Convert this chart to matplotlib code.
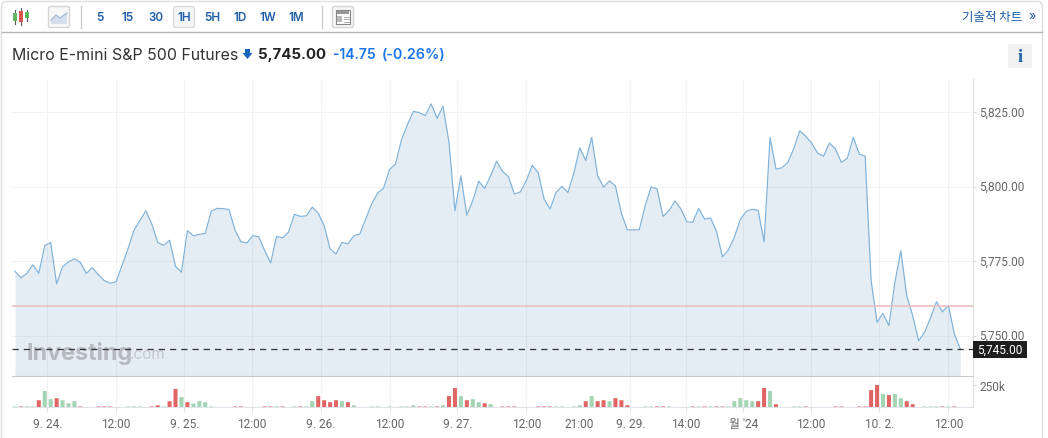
import matplotlib
matplotlib.use("Agg")

import matplotlib.pyplot as plt
from matplotlib.patches import FancyBboxPatch, Polygon, Rectangle
from matplotlib.transforms import ScaledTranslation
import numpy as np

FONT = ["Inter", "Noto Sans CJK KR", "DejaVu Sans"]
TICK_FONT = ["Roboto", "Noto Sans CJK KR", "DejaVu Sans"]
plt.rcParams["font.family"] = FONT

# hourly closes
price = [
    5771.6, 5769.4, 5770.9, 5773.8, 5770.9, 5780.2, 5781.3, 5767.4, 5773.1, 5774.8,
    5775.8, 5774.6, 5770.9, 5772.8, 5770.5, 5768.5, 5767.6, 5768.1, 5773.5, 5779.1,
    5785.3, 5788.6, 5791.9, 5787.5, 5781.3, 5780.3, 5782.0, 5773.3, 5771.3, 5785.2,
    5783.5, 5784.0, 5784.3, 5791.7, 5792.7, 5792.6, 5792.3, 5785.5, 5781.5, 5781.1,
    5783.5, 5783.2, 5778.5, 5774.4, 5783.3, 5782.8, 5784.7, 5790.7, 5790.0, 5790.2,
    5793.1, 5791.1, 5786.9, 5779.1, 5777.4, 5781.3, 5780.8, 5783.5, 5784.1, 5789.1,
    5794.2, 5797.8, 5799.5, 5805.7, 5807.5, 5815.6, 5820.7, 5825.2, 5824.8, 5823.8,
    5827.7, 5822.9, 5826.9, 5814.8, 5791.9, 5803.6, 5790.4, 5795.3, 5801.8, 5799.4,
    5803.6, 5808.5, 5805.1, 5803.3, 5797.5, 5798.2, 5802.0, 5807.1, 5804.7, 5795.8,
    5792.5, 5798.0, 5800.1, 5798.0, 5804.5, 5813.0, 5808.7, 5816.5, 5803.6, 5799.8,
    5801.9, 5800.2, 5791.0, 5785.5, 5785.5, 5785.5, 5793.6, 5799.9, 5799.2, 5790.0,
    5791.9, 5795.2, 5792.5, 5788.2, 5788.0, 5792.7, 5789.1, 5789.5, 5784.9, 5776.4,
    5778.8, 5783.0, 5789.0, 5791.7, 5792.4, 5792.0, 5781.5, 5816.5, 5805.9, 5806.3,
    5808.1, 5812.8, 5818.7, 5816.9, 5814.6, 5811.2, 5810.2, 5814.6, 5812.6, 5808.1,
    5809.5, 5816.5, 5810.9, 5810.2, 5768.5, 5754.5, 5757.5, 5753.4, 5767.9, 5778.5,
    5763.4, 5756.7, 5748.3, 5751.2, 5756.0, 5761.4, 5758.0, 5760.2, 5750.6, 5745.6,
]

# volume in thousands, g/r is the bar colour
volume = [
    6, 6, 6, 6, 76, 179, 88, 99, 76, 42,
    65, 6, 0, 0, 6, 6, 6, 0, 0, 6,
    6, 6, 0, 6, 19, 6, 65, 202, 111, 54,
    38, 65, 54, 6, 0, 0, 0, 6, 6, 0,
    0, 0, 6, 6, 6, 6, 0, 6, 6, 6,
    65, 122, 76, 54, 76, 65, 54, 19, 0, 0,
    6, 6, 0, 6, 0, 6, 6, 19, 6, 6,
    6, 6, 19, 122, 213, 122, 76, 88, 54, 42,
    31, 0, 6, 6, 6, 0, 0, 0, 6, 6,
    6, 6, 6, 0, 6, 19, 65, 122, 65, 76,
    65, 99, 76, 19, 0, 0, 6, 6, 6, 6,
    6, 0, 0, 0, 6, 6, 6, 6, 6, 6,
    6, 65, 99, 76, 65, 65, 213, 179, 31, 0,
    0, 6, 6, 6, 0, 0, 0, 0, 6, 6,
    0, 0, 6, 6, 190, 247, 145, 133, 145, 99,
    65, 31, 0, 6, 6, 6, 6, 6, 6, 0,
]
vol_dir = (
    "grggrggrgg" "grggrrrggg" "gggrrgrrgr" "gggggggrrg"
    "ggrrgrggrg" "grrrrgrggg" "ggggggggrr" "grgrrgrggr"
    "ggrrrgggrr" "rgggggrgrr" "grrrggggrr" "ggggrgrgrr"
    "gggggrrgrg" "gggrggggrr" "ggrrrrgrgg" "rrggggrgrg"
)

tick_pos = [5.43, 17, 28.5, 39.9, 51.5, 63, 74.4, 86, 94.9, 103.5, 112.9, 122.5, 133.9, 145.4, 157]
tick_labels = ["9. 24.", "12:00", "9. 25.", "12:00", "9. 26.", "12:00", "9. 27.", "12:00",
               "21:00", "9. 29.", "14:00", "월 '24", "12:00", "10. 2.", "12:00"]
price_ticks = [5750, 5775, 5800, 5825]
periods = ["5", "15", "30", "1H", "5H", "1D", "1W", "1M"]
period_x = [100, 128, 156, 184, 212, 240, 268, 296]
last_price = 5745.4
prev_close = 5759.9

W, H = 1048, 439
BLUE = "#1f5ea8"
BRIGHT = "#1a73e8"
GRID = "#f1f2f5"
TICK_TEXT = "#666666"


def px_axes(fig, left, top, right, bottom, **kw):
    return fig.add_axes([left / W, 1 - bottom / H, (right - left) / W, (bottom - top) / H], **kw)


fig = plt.figure(figsize=(W / 100, H / 100), dpi=100, facecolor="white")
ax = px_axes(fig, 12, 80, 973, 376.5)
ax_vol = px_axes(fig, 12, 376.5, 973, 408)
xs = np.arange(len(price))

# price panel, the fill is see-through so the grid shows under it
ax.fill_between(xs, price, 5700, color="#78a0c8", alpha=0.2, lw=0, zorder=1)
ax.plot(xs, price, color="#7fb2d8", lw=0.85, zorder=3)
ax.set_xlim(-0.505, 161.14)
ax.set_ylim(5736.67, 5836.06)
ax.set_xticks(tick_pos)
ax.set_yticks(price_ticks)
ax.set_yticklabels([f"{p:,.2f}" for p in price_ticks], fontsize=8.6, color=TICK_TEXT, family=TICK_FONT)
ax.yaxis.tick_right()
ax.tick_params(axis="x", length=0, labelbottom=False)
ax.tick_params(axis="y", length=2, color="#dddddd", pad=2.7)
ax.grid(True, color=GRID, lw=0.75, zorder=0)
ax.set_axisbelow(True)
ax.xaxis.get_major_ticks()[8].gridline.set_visible(False)
# labels sit a little above their ticks in the original
nudge = ScaledTranslation(0, 1.2 / 72, fig.dpi_scale_trans)
for lab in ax.get_yticklabels():
    lab.set_transform(lab.get_transform() + nudge)
for name in ["top", "left", "bottom"]:
    ax.spines[name].set_visible(False)
ax.spines["right"].set_color("#dddddd")
ax.axhline(prev_close, color="#ecc0c0", lw=1.2, zorder=4)
ax.axhline(last_price, color="#333333", lw=0.9, dashes=(5, 4), zorder=6)

# volume panel
bars = ax_vol.bar(xs, volume, width=0.68, lw=0, zorder=3,
                  color=["#a3d4b3" if d == "g" else "#e06666" for d in vol_dir])
for b in bars:
    b.set_snap(False)
ax_vol.set_xlim(ax.get_xlim())
ax_vol.set_ylim(0, 353)
ax_vol.set_xticks(tick_pos)
ax_vol.set_xticklabels(tick_labels, fontsize=8.6, color=TICK_TEXT, family=TICK_FONT)
ax_vol.set_yticks([250])
ax_vol.set_yticklabels(["250k"], fontsize=8.6, color=TICK_TEXT, family=TICK_FONT)
ax_vol.yaxis.tick_right()
ax_vol.tick_params(axis="x", length=3.6, color="#dfe2e8", pad=3.3)
ax_vol.tick_params(axis="y", length=2, color="#dddddd", pad=2.7)
ax_vol.grid(True, axis="x", color=GRID, lw=0.75, zorder=1)
ax_vol.xaxis.get_major_ticks()[8].gridline.set_visible(False)
ax_vol.xaxis.get_major_ticks()[8].tick1line.set_visible(False)
ax_vol.spines["left"].set_visible(False)
ax_vol.spines["top"].set_color("#c8c8c8")
ax_vol.spines["right"].set_color("#dddddd")
ax_vol.spines["bottom"].set_color("#dfe2e8")

# everything around the chart, in pixel coordinates
ov = fig.add_axes([0, 0, 1, 1], zorder=10)
ov.set_xlim(0, W)
ov.set_ylim(H, 0)
ov.axis("off")
ov.patch.set_alpha(0)

ov.add_patch(FancyBboxPatch((1.5, 2.5), 1041, 460, boxstyle="round,pad=0,rounding_size=5",
                            fc="none", ec="#dddddd", lw=1))
ov.plot([2, 1042], [33, 33], color="#b5b5b5", lw=1)
ov.plot([80.5, 80.5], [7, 29], color="#cccccc", lw=1)
ov.plot([321.5, 321.5], [7, 29], color="#cccccc", lw=1)

# candlestick icon
for cx, top, y0, y1, col in [(15, 11, 14, 22, "#5cb85c"), (21, 9, 12, 23, "#d9534f"), (27, 11, 13, 19, "#5cb85c")]:
    ov.plot([cx, cx], [top, y1 + 3], color="#555555", lw=0.8)
    ov.add_patch(Rectangle((cx - 1.7, y0), 3.4, y1 - y0, fc=col, ec="none", zorder=3))

# area icon and table icon buttons
for bx in [48.5, 332.5]:
    ov.add_patch(FancyBboxPatch((bx, 7.5), 21, 21, boxstyle="round,pad=0,rounding_size=2",
                                fc="#f7f7f7", ec="#d5d5d5", lw=1))
ov.add_patch(Polygon([(51, 25), (51, 21), (56, 16), (60, 19), (67, 14), (67, 25)],
                     fc="#d5dff0", ec="none"))
ov.plot([51, 56, 60, 67], [21, 16, 19, 14], color="#9db4d6", lw=0.8)
ov.add_patch(Rectangle((336, 11), 14, 14, fc="#ffffff", ec="#888888", lw=0.8))
ov.add_patch(Rectangle((337, 12), 12, 3, fc="#999999", ec="none", zorder=3))
ov.add_patch(Rectangle((337, 17), 5, 6, fc="#bbbbbb", ec="none", zorder=3))
for ly in [17.5, 20, 22.5]:
    ov.plot([344, 349], [ly, ly], color="#aaaaaa", lw=0.7)

ov.add_patch(FancyBboxPatch((173.5, 7.5), 21, 21, boxstyle="round,pad=0,rounding_size=2",
                            fc="#f5f6f8", ec="#dcdcdc", lw=1))
for label, x in zip(periods, period_x):
    ov.text(x, 18, label, ha="center", va="center", fontsize=8.4, fontweight="semibold", color=BLUE)

ov.text(1022, 17, "기술적 차트", ha="right", va="center", fontsize=9, color=BLUE, family=FONT[1:])
ov.text(1032, 17, "»", ha="center", va="center", fontsize=9, color=BLUE)

# header line
ov.text(12, 55, "Micro E-mini S&P 500 Futures", ha="left", va="center", fontsize=11.45, color="#333333")
ov.add_patch(Polygon([(245, 50), (250, 50), (250, 54), (252.5, 54), (247.5, 60), (242.5, 54), (245, 54)],
                     fc="#1565c0", ec="none"))
ov.text(258, 54.5, "5,745.00", ha="left", va="center", fontsize=10.8, fontweight="bold", color="#222222")
ov.text(333, 55, "-14.75", ha="left", va="center", fontsize=10, fontweight="semibold", color=BRIGHT)
ov.text(382, 55, "(-0.26%)", ha="left", va="center", fontsize=10.3, fontweight="semibold", color=BRIGHT)

ov.add_patch(Rectangle((1008, 45), 24, 24, fc="#f0f0f0", ec="none"))
ov.text(1020, 57, "i", ha="center", va="center", fontsize=13, fontweight="bold", color=BLUE,
        family=["Liberation Serif", "DejaVu Serif"])

# last price tag
ov.add_patch(Rectangle((973, 342), 54, 17, fc="#1e1e1e", ec="none"))
ov.text(1000, 350.5, "5,745.00", ha="center", va="center", fontsize=8.6, color="white", family=TICK_FONT)

# watermark, kept under the dashed line
ax.text(27, 354, "Investing", transform=ov.transData, ha="left", va="center", fontsize=16.8,
        fontweight="bold", color="#b5bac0", zorder=5, clip_on=False)
ax.text(130, 355, ".com", transform=ov.transData, ha="left", va="center", fontsize=11,
        color="#c4c9cf", zorder=5, clip_on=False)

fig.savefig("out.png", dpi=100)
